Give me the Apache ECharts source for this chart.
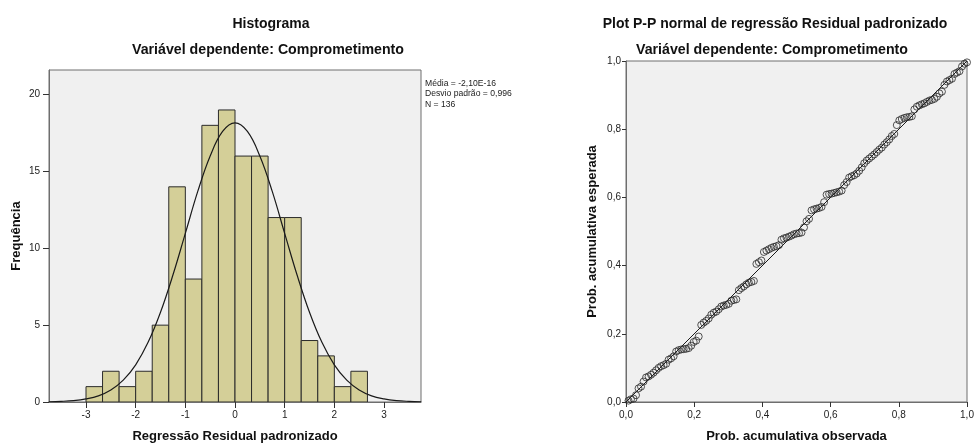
<!DOCTYPE html>
<html>
<head>
<meta charset="utf-8">
<script src="https://cdn.jsdelivr.net/npm/echarts@6/dist/echarts.min.js"></script>
<style>
html,body{margin:0;padding:0;background:#fff;}
#chart{width:975px;height:443px;}
</style>
</head>
<body>
<div id="chart"></div>
<script>
// ---- Histogram data ----
const binEdges = [-3, -2.6667, -2.3333, -2, -1.6667, -1.3333, -1, -0.6667, -0.3333, 0, 0.3333, 0.6667, 1, 1.3333, 1.6667, 2, 2.3333, 2.6667];
const binCounts = [1, 2, 1, 2, 5, 14, 8, 18, 19, 16, 16, 12, 12, 4, 3, 1, 2];
// normal curve
const curveX = [-3.75,-3.5,-3.25,-3,-2.75,-2.5,-2.25,-2,-1.75,-1.5,-1.25,-1,-0.75,-0.5,-0.25,0,0.25,0.5,0.75,1,1.25,1.5,1.75,2,2.25,2.5,2.75,3,3.25,3.5,3.75];
const curveY = [0.015,0.04,0.09,0.2,0.4,0.78,1.42,2.42,3.88,5.84,8.26,10.97,13.7,16.0,17.6,18.16,17.6,16.0,13.7,10.97,8.26,5.84,3.88,2.42,1.42,0.78,0.4,0.2,0.09,0.04,0.015];
const histXTicks = [-3,-2,-1,0,1,2,3];
const histYTicks = [0,5,10,15,20];
const histTitle = 'Histograma';
const subTitle = 'Variável dependente: Comprometimento';
const histXName = 'Regressão Residual padronizado';
const histYName = 'Frequência';
const statsLines = ['Média = -2,10E-16', 'Desvio padrão = 0,996', 'N = 136'];

// ---- P-P plot data (expected cumulative prob., ordered by rank) ----
const ppExpected = [
 0.004,0.008,0.010,0.020,0.040,0.045,0.060,0.072,0.075,0.080,0.086,
 0.093,0.100,0.105,0.108,0.112,0.124,0.128,0.134,0.148,0.152,0.154,0.155,0.156,0.158,
 0.165,0.176,0.180,0.192,0.226,0.233,0.238,0.245,
 0.256,0.262,0.265,0.272,0.280,0.283,0.285,0.288,0.297,0.299,0.301,0.328,0.334,0.339,0.345,0.350,0.352,0.355,
 0.405,0.410,0.415,0.440,0.444,0.448,0.452,0.455,0.457,0.460,0.476,0.480,0.482,0.485,0.488,0.492,0.494,0.495,0.497,
 0.512,0.530,0.537,0.562,0.565,0.567,0.569,0.572,0.586,0.608,0.610,0.611,0.613,0.615,0.617,0.620,
 0.636,0.645,0.658,0.662,0.665,0.670,0.678,0.688,0.700,0.708,0.714,0.720,0.726,0.733,0.740,0.746,
 0.755,0.762,0.770,0.780,0.786,0.812,0.826,0.830,0.833,0.835,0.836,0.838,
 0.858,0.866,0.870,0.873,0.876,0.880,0.884,0.886,0.889,0.895,0.905,0.910,
 0.930,0.940,0.944,0.948,0.962,0.966,0.970,0.984,0.992,0.996
];
const ppRefX = [0, 1];
const ppRefY = [0, 1];
const ppTitle = 'Plot P-P normal de regressão Residual padronizado';
const ppXName = 'Prob. acumulativa observada';
const ppYName = 'Prob. acumulativa esperada';

const FONT = 'Liberation Sans, Arial, sans-serif';
const N = ppExpected.length;
const ppData = ppExpected.map((v, i) => [(i + 1) / N, v]);
const histData = binCounts.map((c, i) => [binEdges[i], binEdges[i] + (binEdges[1] - binEdges[0]), c]);

const chart = echarts.init(document.getElementById('chart'));
const axisLabelStyle = {color: '#222', fontSize: 10, fontFamily: FONT};
const nameStyle = {color: '#111', fontSize: 13, fontWeight: 'bold', fontFamily: FONT};
const titleStyle = {fontSize: 14, fontWeight: 'bold', color: '#111', fontFamily: FONT};
const subStyle = {fontSize: 14.2, fontWeight: 'bold', color: '#111', fontFamily: FONT};

chart.setOption({
  animation: false,
  backgroundColor: '#ffffff',
  title: [
    {text: histTitle, left: 266, top: 12, textAlign: 'center', textStyle: titleStyle},
    {text: subTitle, left: 263, top: 38, textAlign: 'center', textStyle: subStyle},
    {text: ppTitle, left: 770, top: 12, textAlign: 'center', textStyle: titleStyle},
    {text: subTitle, left: 767, top: 38, textAlign: 'center', textStyle: subStyle}
  ],
  graphic: [
    {type: 'text', left: 425, top: 78, style: {text: statsLines.join('\n'), fontSize: 8.6, lineHeight: 10.5, fill: '#222', fontFamily: FONT}}
  ],
  grid: [
    {left: 49, top: 70, width: 372, height: 332, outerBoundsMode: 'none', containLabel: false, show: true, backgroundColor: '#f0f0f0', borderColor: '#6e6e6e', borderWidth: 1},
    {left: 626, top: 61, width: 341, height: 341, outerBoundsMode: 'none', containLabel: false, show: true, backgroundColor: '#f0f0f0', borderColor: '#6e6e6e', borderWidth: 1}
  ],
  xAxis: [
    {gridIndex: 0, type: 'value', min: -3.745, max: 3.745,
     splitLine: {show: false},
     axisLine: {show: true, onZero: false, lineStyle: {color: '#6e6e6e'}},
     axisTick: {show: true, length: 6, lineStyle: {color: '#333'}, customValues: histXTicks},
     axisLabel: Object.assign({customValues: histXTicks, margin: 8}, axisLabelStyle),
     name: histXName, nameLocation: 'middle', nameGap: 28, nameTextStyle: nameStyle},
    {gridIndex: 1, type: 'value', min: 0, max: 1, interval: 0.2,
     splitLine: {show: false},
     axisLine: {show: true, onZero: false, lineStyle: {color: '#6e6e6e'}},
     axisTick: {show: true, length: 5, lineStyle: {color: '#333'}},
     axisLabel: Object.assign({margin: 8, formatter: v => v.toFixed(1).replace('.', ',')}, axisLabelStyle),
     name: ppXName, nameLocation: 'middle', nameGap: 28, nameTextStyle: nameStyle}
  ],
  yAxis: [
    {gridIndex: 0, type: 'value', min: 0, max: 21.6,
     splitLine: {show: false},
     axisLine: {show: true, onZero: false, lineStyle: {color: '#6e6e6e'}},
     axisTick: {show: true, length: 6, lineStyle: {color: '#333'}, customValues: histYTicks},
     axisLabel: Object.assign({customValues: histYTicks, margin: 9}, axisLabelStyle),
     name: histYName, nameLocation: 'middle', nameGap: 26, nameTextStyle: nameStyle},
    {gridIndex: 1, type: 'value', min: 0, max: 1, interval: 0.2,
     splitLine: {show: false},
     axisLine: {show: true, onZero: false, lineStyle: {color: '#6e6e6e'}},
     axisTick: {show: true, length: 4, lineStyle: {color: '#333'}},
     axisLabel: Object.assign({margin: 5, formatter: v => v.toFixed(1).replace('.', ',')}, axisLabelStyle),
     name: ppYName, nameLocation: 'middle', nameGap: 27, nameTextStyle: nameStyle}
  ],
  series: [
    {type: 'custom', xAxisIndex: 0, yAxisIndex: 0, data: histData, clip: true,
     renderItem: function (params, api) {
       const p0 = api.coord([api.value(0), api.value(2)]);
       const p1 = api.coord([api.value(1), 0]);
       return {type: 'rect', shape: {x: p0[0], y: p0[1], width: p1[0] - p0[0], height: p1[1] - p0[1]},
               style: {fill: '#d4cf98', stroke: '#2b2b2b', lineWidth: 1}};
     }},
    {type: 'line', xAxisIndex: 0, yAxisIndex: 0, data: curveX.map((x, i) => [x, curveY[i]]),
     smooth: 0.4, showSymbol: false, lineStyle: {color: '#1a1a1a', width: 1.2}, clip: true, z: 5},
    {type: 'line', xAxisIndex: 1, yAxisIndex: 1, data: ppRefX.map((x, i) => [x, ppRefY[i]]),
     showSymbol: false, lineStyle: {color: '#1a1a1a', width: 1}, z: 3},
    {type: 'scatter', xAxisIndex: 1, yAxisIndex: 1, data: ppData, symbol: 'circle', symbolSize: 7,
     itemStyle: {color: 'rgba(0,0,0,0)', borderColor: '#2a2a2a', borderWidth: 1}, z: 4}
  ]
});
</script>
</body>
</html>
